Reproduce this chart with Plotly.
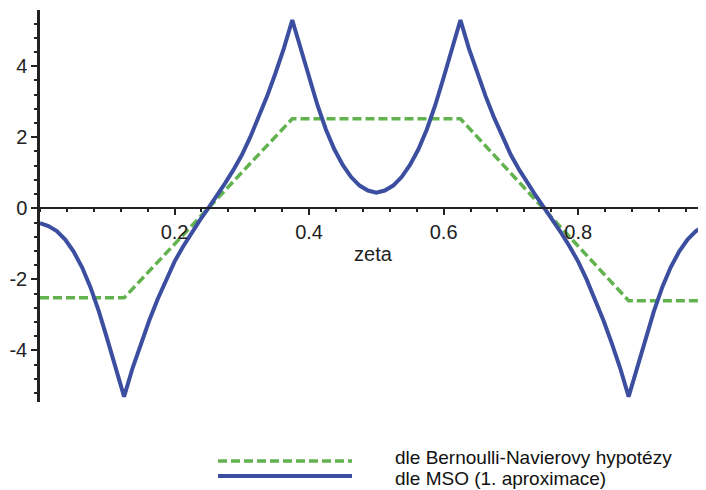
import plotly.graph_objects as go

# ---- data ----
zeta = [i * 0.0125 for i in range(81)]
mso_half = [-0.42, -0.50, -0.64, -0.88, -1.22, -1.66, -2.22, -2.90, -3.68, -4.48,
            -5.30, -4.50, -3.80, -3.15, -2.55, -2.00, -1.50, -1.08, -0.70, -0.34,
            0.00, 0.34, 0.70, 1.08, 1.50, 2.00, 2.55, 3.15, 3.80, 4.50,
            5.30, 4.48, 3.68, 2.90, 2.22, 1.66, 1.22, 0.88, 0.64, 0.50,
            0.44]
mso = mso_half + mso_half[-2::-1]

bn_zeta = [0.0, 0.125, 0.375, 0.625, 0.875, 1.0]
bn_vals = [-2.52, -2.52, 2.52, 2.52, -2.60, -2.60]

x_ticks = [0.2, 0.4, 0.6, 0.8]
y_ticks = [-4, -2, 0, 2, 4]
legend_names = ["dle Bernoulli-Navierovy hypotézy", "dle MSO (1. aproximace)"]

GREEN = "#62b34f"
BLUE = "#3c4ea0"
FONT = "Liberation Sans, Arial, sans-serif"

x_range = [0.0, 0.99]
y_range = [-5.45, 5.58]

# page has an 8px body margin: lay the figure out in page pixel terms
OFF = 8
PAGE_W, PAGE_H = 706, 490
W, H = PAGE_W - OFF, PAGE_H - OFF
plot_left, plot_top, plot_right, plot_bottom = 40, 10, 706, 402   # page pixels
ml, mt = plot_left - OFF, plot_top - OFF
mr = PAGE_W - plot_right
mb = PAGE_H - plot_bottom
plot_h = plot_bottom - plot_top
plot_w = plot_right - plot_left

def py(page_y):
    return (plot_bottom - page_y) / plot_h

def px(page_x):
    return (page_x - plot_left) / plot_w

fig = go.Figure()
fig.add_trace(go.Scatter(x=bn_zeta, y=bn_vals, mode="lines", name=legend_names[0],
                         line=dict(color=GREEN, width=3.5, dash="9px,4px"),
                         showlegend=False))
fig.add_trace(go.Scatter(x=zeta, y=mso, mode="lines", name=legend_names[1],
                         line=dict(color=BLUE, width=4), showlegend=False))

x_pos = (0 - y_range[0]) / (y_range[1] - y_range[0])

fig.update_layout(
    width=W, height=H,
    margin=dict(l=ml, r=mr, t=mt, b=mb, autoexpand=False),
    paper_bgcolor="white", plot_bgcolor="white",
    font=dict(family=FONT, size=20, color="#222"),
    xaxis=dict(range=x_range, anchor="free", position=x_pos, automargin=False,
               showline=True, linecolor="#222", linewidth=2,
               tickmode="array", tickvals=x_ticks, ticktext=[str(v) for v in x_ticks],
               ticks="outside", ticklen=6, tickwidth=2, tickcolor="#222",
               minor=dict(tickmode="linear", tick0=0, dtick=0.04, ticks="outside",
                          ticklen=3, tickwidth=1.5, tickcolor="#222"),
               showgrid=False, zeroline=False,
               title=dict(text="zeta", standoff=4, font=dict(size=20)),
               tickfont=dict(size=20)),
    yaxis=dict(range=y_range, automargin=False,
               showline=True, linecolor="#222", linewidth=2.5,
               tickmode="array", tickvals=y_ticks, ticktext=[str(v) for v in y_ticks],
               ticks="outside", ticklen=6, tickwidth=2, tickcolor="#222",
               minor=dict(tickmode="linear", tick0=0, dtick=0.4, ticks="outside",
                          ticklen=3, tickwidth=1.5, tickcolor="#222"),
               showgrid=False, zeroline=False, tickfont=dict(size=20)),
    showlegend=False,
)

# manual legend (long swatches as in the reference)
fig.add_shape(type="line", xref="paper", yref="paper",
              x0=px(218), x1=px(352), y0=py(461), y1=py(461),
              line=dict(color=GREEN, width=3.5, dash="9px,4px"))
fig.add_shape(type="line", xref="paper", yref="paper",
              x0=px(218), x1=px(352), y0=py(476), y1=py(476),
              line=dict(color=BLUE, width=4))
fig.add_annotation(text=legend_names[0], xref="paper", yref="paper",
                   x=px(394), y=py(457), xanchor="left", yanchor="middle",
                   showarrow=False, borderpad=0,
                   font=dict(size=19, family=FONT, color="#111"))
fig.add_annotation(text=legend_names[1], xref="paper", yref="paper",
                   x=px(394), y=py(478.5), xanchor="left", yanchor="middle",
                   showarrow=False, borderpad=0,
                   font=dict(size=19, family=FONT, color="#111"))

fig.write_html("out.html")
